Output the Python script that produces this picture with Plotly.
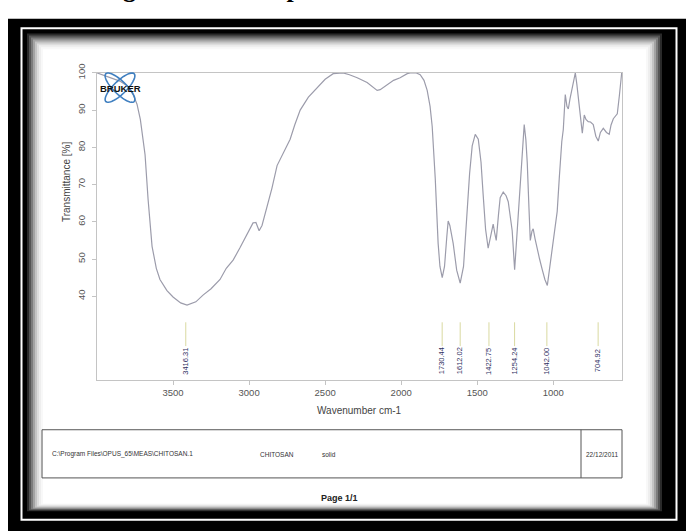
import numpy as np
import plotly.graph_objects as go

W, H = 686, 531

# ---------------- data ----------------
wavenumber = [4000, 3950, 3900, 3850, 3800, 3760, 3737, 3715, 3697, 3684, 3664, 3638, 3610, 3586,
              3540, 3500, 3450, 3408, 3350, 3303, 3250, 3191, 3150, 3105, 3060, 3013, 2974, 2955,
              2934, 2915, 2882, 2850, 2816, 2770, 2730, 2700, 2664, 2610, 2553, 2500, 2447, 2400,
              2382, 2340, 2289, 2224, 2190, 2158, 2138, 2092, 2050, 2007, 1960, 1941, 1900, 1875,
              1850, 1829, 1810, 1796, 1776, 1757, 1745, 1730, 1715, 1700, 1691, 1680, 1658, 1635,
              1612, 1590, 1566, 1550, 1533, 1513, 1493, 1475, 1461, 1445, 1428, 1410, 1395, 1385,
              1375, 1360, 1349, 1329, 1310, 1296, 1280, 1270, 1254, 1240, 1217, 1200, 1191, 1180,
              1171, 1160, 1151, 1140, 1132, 1120, 1105, 1090, 1072, 1055, 1039, 1025, 1007, 990,
              974, 960, 954, 944, 934, 921, 910, 901, 890, 875, 855, 845, 836, 820, 809, 796, 785,
              770, 755, 737, 720, 704, 690, 671, 650, 632, 620, 605, 590, 579, 565, 550]
transmittance = [100, 99.2, 98.6, 97.8, 96.5, 94, 91.6, 87.5, 82, 78, 66, 53.4, 47.5, 44.5,
                 41.5, 39.8, 38.2, 37.6, 38.5, 40.3, 42, 44.5, 47.5, 49.7, 53, 56.8, 59.7, 59.8,
                 57.6, 59, 63.9, 69, 75.1, 79, 82.2, 86, 90, 93.5, 96, 98.3, 99.8, 100,
                 100, 99.5, 98.7, 97.4, 96.3, 95.3, 95.5, 96.9, 98, 98.7, 99.8, 100, 100, 99.5,
                 98, 95.3, 91, 85.6, 71.7, 54.2, 48, 45, 48, 56, 60.2, 59, 54.2, 47,
                 43.5, 48, 62.8, 73, 80.4, 83.5, 82.2, 76, 67.3, 58, 52.9, 56, 59.4, 57,
                 55, 62, 66.5, 68, 67, 65.4, 61, 57.6, 47.1, 56, 71.7, 82, 86.1, 82,
                 75.9, 64, 55, 57.5, 58.1, 55.5, 52.4, 50, 47.1, 44.5, 42.9, 47, 52.4, 57,
                 62.8, 72, 77, 81.5, 84.8, 94.2, 91, 90.3, 93, 96.1, 100, 97, 93.5, 88, 83.8, 88.7, 87.5,
                 86.9, 86.8, 86.1, 83, 81.7, 84, 85.1, 84, 83.5, 86, 87.7, 88.5, 89, 94, 100]

peak_wn = [3416.31, 1730.44, 1612.02, 1422.75, 1254.24, 1042.00, 704.92]
peak_labels = ["3416.31", "1730.44", "1612.02", "1422.75", "1254.24", "1042.00", "704.92"]
x_ticks = [3500, 3000, 2500, 2000, 1500, 1000]
y_ticks = [40, 50, 60, 70, 80, 90, 100]
x_range = [4000, 548]
y_range = [17.6, 100]

# ---------------- geometry helpers ----------------
def fx(x):
    return x / W

def fy(y):
    return 1 - y / H

PLOT_L, PLOT_R, PLOT_T, PLOT_B = 97, 622, 65, 377
FONT = "Arial, Liberation Sans, sans-serif"

fig = go.Figure()

fig.add_trace(go.Scatter(x=wavenumber, y=transmittance, mode="lines",
                         line=dict(color="#9c9cab", width=1.2), hoverinfo="skip",
                         showlegend=False))

# peak marker lines
line_top, line_bot = 33.0, 26.6
px_, py_ = [], []
for w in peak_wn:
    px_ += [w, w, None]
    py_ += [line_top, line_bot, None]
fig.add_trace(go.Scatter(x=px_, y=py_, mode="lines", line=dict(color="#d9d9a0", width=1),
                         hoverinfo="skip", showlegend=False))

annotations = []
for w, lab in zip(peak_wn, peak_labels):
    annotations.append(dict(x=w, y=22.6, xref="x", yref="y", text=lab, showarrow=False,
                            xanchor="center", yanchor="middle", textangle=-90,
                            font=dict(family=FONT, size=7.5, color="#2f2f62")))

# ---------------- frame shapes ----------------
shapes = []
shapes.append(dict(type="rect", xref="paper", yref="paper", x0=fx(8), x1=fx(W + 2),
                   y0=fy(H + 2), y1=fy(10), fillcolor="black", line=dict(width=0), layer="below"))
shapes.append(dict(type="rect", xref="paper", yref="paper", x0=fx(21.5), x1=fx(676.5),
                   y0=fy(519.5), y1=fy(19.5), fillcolor="rgba(0,0,0,0)",
                   line=dict(color="white", width=2), layer="below"))
shade = ["#2a2a2a", "#555555", "#7d7d7d", "#a3a3a3", "#c4c4c4", "#dddddd", "#eeeeee", "#f8f8f8", "#ffffff"]
l, t, r, b = 27, 25, 662, 511
for i, c in enumerate(shade):
    shapes.append(dict(type="rect", xref="paper", yref="paper",
                       x0=fx(l + 2 * i), x1=fx(r - 2 * i), y0=fy(b - 1 * i), y1=fy(t + 2 * i),
                       fillcolor=c, line=dict(width=0), layer="below"))

# info box at the bottom
shapes.append(dict(type="rect", xref="paper", yref="paper", x0=fx(42), x1=fx(622),
                   y0=fy(477), y1=fy(428), line=dict(color="#555555", width=1),
                   fillcolor="rgba(0,0,0,0)"))
shapes.append(dict(type="line", xref="paper", yref="paper", x0=fx(581), x1=fx(581),
                   y0=fy(477), y1=fy(428), line=dict(color="#555555", width=1)))

# Bruker logo (two crossing loops)
cx, cy = 120, 80
tt = np.linspace(0, 2 * np.pi, 60)
for ang in (np.pi / 4, -np.pi / 4):
    ex = 20 * np.cos(tt)
    ey = 6.5 * np.sin(tt)
    xs = cx + ex * np.cos(ang) - ey * np.sin(ang)
    ys = cy + ex * np.sin(ang) + ey * np.cos(ang)
    path = "M " + " L ".join(f"{fx(a):.5f},{fy(b_):.5f}" for a, b_ in zip(xs, ys)) + " Z"
    shapes.append(dict(type="path", xref="paper", yref="paper", path=path,
                       line=dict(color="#3f7fc0", width=1.6), fillcolor="rgba(0,0,0,0)"))

def note(x, y, text, size, color="#333333", xanchor="center", yanchor="middle", angle=0,
         family=FONT):
    annotations.append(dict(x=fx(x), y=fy(y), xref="paper", yref="paper", text=text,
                            showarrow=False, xanchor=xanchor, yanchor=yanchor, textangle=angle,
                            font=dict(family=family, size=size, color=color)))

note(120, 81, "<b>BRUKER</b>", 9.5, "#111111")
note(66, 176, "Transmittance [%]", 10, "#444444", angle=-90)
note(360, 408, "Wavenumber cm-1", 10, "#444444")
note(50, 453, "C:\\Program Files\\OPUS_65\\MEAS\\CHITOSAN.1", 6.5, xanchor="left")
note(258, 453, "CHITOSAN", 6.5, xanchor="left")
note(320, 453, "solid", 6.5, xanchor="left")
note(584, 453, "22/12/2011", 6.5, xanchor="left")
note(339, 497, "<b>Page 1/1</b>", 9, "#222222")

# caption of the page, cut off at the top of the photo (only descenders visible)
note(98, -4.5, "<b>Figure 3: FTIR spectrum of chitosan</b>", 26, "black", xanchor="left",
     yanchor="bottom", family="Liberation Serif, Times New Roman, serif")

axis_common = dict(showgrid=False, zeroline=False, showline=True, mirror=True,
                   linecolor="#c4c4c4", linewidth=1, ticks="outside", ticklen=4,
                   tickcolor="#c4c4c4", tickfont=dict(family=FONT, size=9.5, color="#555555"))

fig.update_layout(
    width=W, height=H, margin=dict(l=0, r=0, t=0, b=0),
    paper_bgcolor="white", plot_bgcolor="rgba(0,0,0,0)",
    xaxis=dict(range=x_range, domain=[fx(PLOT_L), fx(PLOT_R)], tickvals=x_ticks,
               ticktext=[str(v) for v in x_ticks], **axis_common),
    yaxis=dict(range=y_range, domain=[fy(PLOT_B), fy(PLOT_T)], tickvals=y_ticks,
               ticktext=[str(v) for v in y_ticks], tickangle=-90, ticklabelstandoff=3,
               **axis_common),
    shapes=shapes, annotations=annotations, showlegend=False,
)

fig.write_html("out.html")
